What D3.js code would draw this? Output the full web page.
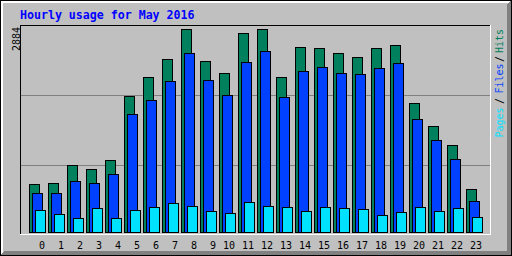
<!DOCTYPE html>
<html>
<head>
<meta charset="utf-8">
<script src="https://cdn.jsdelivr.net/npm/d3@7"></script>
<style>
  body { margin: 0; background: #fff; }
  svg { display: block; }
  text { font-family: "DejaVu Sans Mono", monospace; }
</style>
</head>
<body>
<svg id="chart" width="512" height="256"></svg>
<script>
const hours = ["0", "1", "2", "3", "4", "5", "6", "7", "8", "9", "10", "11",
               "12", "13", "14", "15", "16", "17", "18", "19", "20", "21", "22", "23"]
const hits  = [668, 692, 938, 895, 1009, 1918, 2202, 2444, 2884, 2429, 2245, 2827,
               2876, 2188, 2628, 2614, 2529, 2486, 2600, 2643, 1819, 1492, 1222, 597]
const files = [540, 554, 720, 696, 810, 1672, 1875, 2145, 2543, 2159, 1946, 2401,
               2571, 1904, 2287, 2344, 2245, 2231, 2316, 2387, 1605, 1307, 1023, 440]
const pages = [308, 251, 194, 327, 194, 308, 341, 412, 369, 298, 256, 426,
               369, 341, 298, 341, 327, 313, 237, 270, 355, 298, 327, 213]

const title = "Hourly usage for May 2016"
const series = [
    {name: "Hits", values: hits, color: "#00805c", off: 0},
    {name: "Files", values: files, color: "#0040ff", off: 3},
    {name: "Pages", values: pages, color: "#00e0ff", off: 6}
]

const W = 512, H = 256
const grey = "#c0c0c0", dkgrey = "#808080"

const svg = d3.select("#chart").attr("shape-rendering", "crispEdges")

function hline(y, x1, x2, col) {
    svg.append("line").attr("x1", x1).attr("x2", x2 + 1)
        .attr("y1", y + 0.5).attr("y2", y + 0.5).attr("stroke", col)
}
function vline(x, y1, y2, col) {
    svg.append("line").attr("x1", x + 0.5).attr("x2", x + 0.5)
        .attr("y1", y1).attr("y2", y2 + 1).attr("stroke", col)
}

// background + 3d border
svg.append("rect").attr("width", W).attr("height", H).attr("fill", grey)
for (let i = 1; i < 3; i++) {
    hline(i, i, W - 2 - i, "white")
    vline(i, i, H - 2 - i, "white")
}
for (let i = 1; i < 5; i++) {
    hline(H - 1 - i, i, W - 1 - i, dkgrey)
    vline(W - 1 - i, i, H - 1 - i, dkgrey)
}
svg.append("rect").attr("x", 0.5).attr("y", 0.5).attr("width", W - 1).attr("height", H - 1)
    .attr("fill", "none").attr("stroke", "black")

// plot frame (inset)
const plotTop = 25, base = 232, plotLeft = 20, plotRight = 490

// index lines
hline(plotTop + 70, plotLeft + 1, plotRight - 1, dkgrey)
hline(plotTop + 140, plotLeft + 1, plotRight - 1, dkgrey)

hline(plotTop, plotLeft, plotRight, "black")
vline(plotLeft, plotTop, base + 2, "black")
hline(base + 2, plotLeft, plotRight, "white")
vline(plotRight, plotTop, base + 2, "white")

// scales
const x = d3.scaleBand().domain(hours).range([29, 29 + 19 * hours.length])
const y = d3.scaleLinear().domain([0, d3.max(hits)]).range([base, 29])

series.forEach(s => {
    svg.append("g").selectAll("rect")
        .data(s.values.map((v, i) => ({h: hours[i], v: v})))
        .join("rect")
        .attr("x", d => x(d.h) + s.off + 0.5)
        .attr("y", d => Math.floor(y(d.v)) + 0.5)
        .attr("width", 10)
        .attr("height", d => base - Math.floor(y(d.v)))
        .attr("fill", s.color)
        .attr("stroke", "black")
})

// hour labels
svg.append("g").selectAll("text")
    .data(hours)
    .join("text")
    .attr("x", d => x(d) + 16)
    .attr("y", 249)
    .attr("text-anchor", "end")
    .attr("font-size", 10)
    .attr("fill", "black")
    .text(d => d)

// max value
svg.append("text")
    .attr("transform", "translate(19.5,51) rotate(-90)")
    .attr("font-size", 10)
    .attr("fill", "black")
    .text(d3.max(hits))

// title
svg.append("text")
    .attr("x", 20).attr("y", 19)
    .attr("font-size", 11.6)
    .attr("font-weight", "bold")
    .attr("fill", "#0000ff")
    .text(title)

// legend, reading upward
const legend = [
    {t: "Hits", c: "#00805c", at: 53},
    {t: "/", c: "black", at: 62},
    {t: "Files", c: "#0040ff", at: 93.5},
    {t: "/", c: "black", at: 104},
    {t: "Pages", c: "#00e0ff", at: 137.5}
]
svg.append("g").selectAll("text")
    .data(legend)
    .join("text")
    .attr("transform", d => `translate(503,${d.at}) rotate(-90)`)
    .attr("font-size", 10)
    .attr("fill", d => d.c)
    .text(d => d.t)
</script>
</body>
</html>
